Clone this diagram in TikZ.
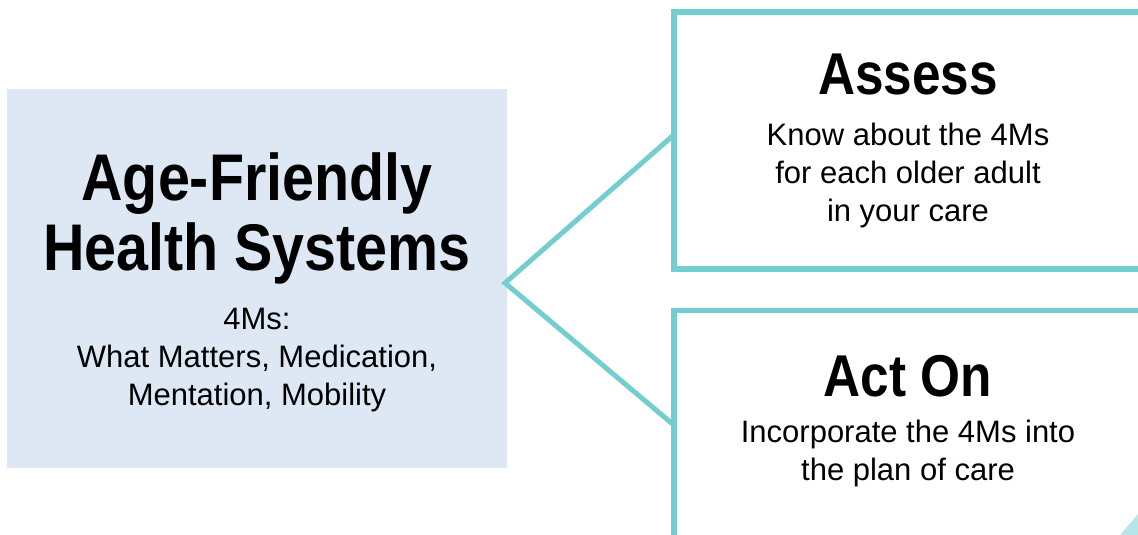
\documentclass[tikz,border=0pt]{standalone}
\usepackage{fontspec}
\setmainfont{Liberation Sans}
\newfontfamily\headfont[FakeStretch=0.87]{Liberation Sans}
\setlength{\lineskiplimit}{-100pt}

\definecolor{ahsblue}{HTML}{DDE8F4}
\definecolor{ahsteal}{HTML}{73CFCF}

\tikzset{
  bluebox/.style={fill=ahsblue, inner sep=0pt, outer sep=0pt},
  tealbox/.style={draw=ahsteal, line width=5.5pt, inner sep=0pt, outer sep=0pt},
  link/.style={draw=ahsteal, line width=5pt},
  titletext/.style={font=\headfont\bfseries\fontsize{66}{70}\selectfont, align=center, anchor=base, inner sep=0pt},
  headtext/.style={font=\headfont\bfseries\fontsize{59}{59}\selectfont, anchor=base, inner sep=0pt},
  bodytext/.style={font=\fontsize{31}{38}\selectfont, align=center, anchor=base, inner sep=0pt}
}

\begin{document}
\begin{tikzpicture}[x=1pt,y=-1pt]

\useasboundingbox (0,0) rectangle (1138,535);
\clip (0,0) rectangle (1138,535);

% left block
\node [bluebox, minimum width=500pt, minimum height=379pt] (ahs) at (257,278.5) {};
\node [titletext] (ahstitle) at (257,270) {Age-Friendly\\Health Systems};
\node [bodytext] (ahsms) at (257,405) {4Ms:\\What Matters, Medication,\\Mentation, Mobility};

% right blocks
\node [tealbox, anchor=north west, minimum width=600pt, minimum height=257pt] (assessbox) at (673.8,11.8) {};
\node [headtext] (assess) at (908,95) {Assess};
\node [bodytext] (assesstext) at (908,221) {Know about the 4Ms\\for each older adult\\in your care};

\node [tealbox, anchor=north west, minimum width=600pt, minimum height=229pt] (actbox) at (673.8,310.5) {};
\node [headtext] (acton) at (908,396) {Act On};
\node [bodytext] (actontext) at (908,480) {Incorporate the 4Ms into\\the plan of care};

% connector
\coordinate (tip) at ([xshift=-2pt,yshift=-4.5pt]ahs.east);
\draw [link] ([yshift=5.4pt]assessbox.west) -- (tip) -- (actbox.west);

\fill [ahsteal, opacity=0.5] (1120,535) -- (1138,514) -- (1138,535) -- cycle;
\end{tikzpicture}
\end{document}
